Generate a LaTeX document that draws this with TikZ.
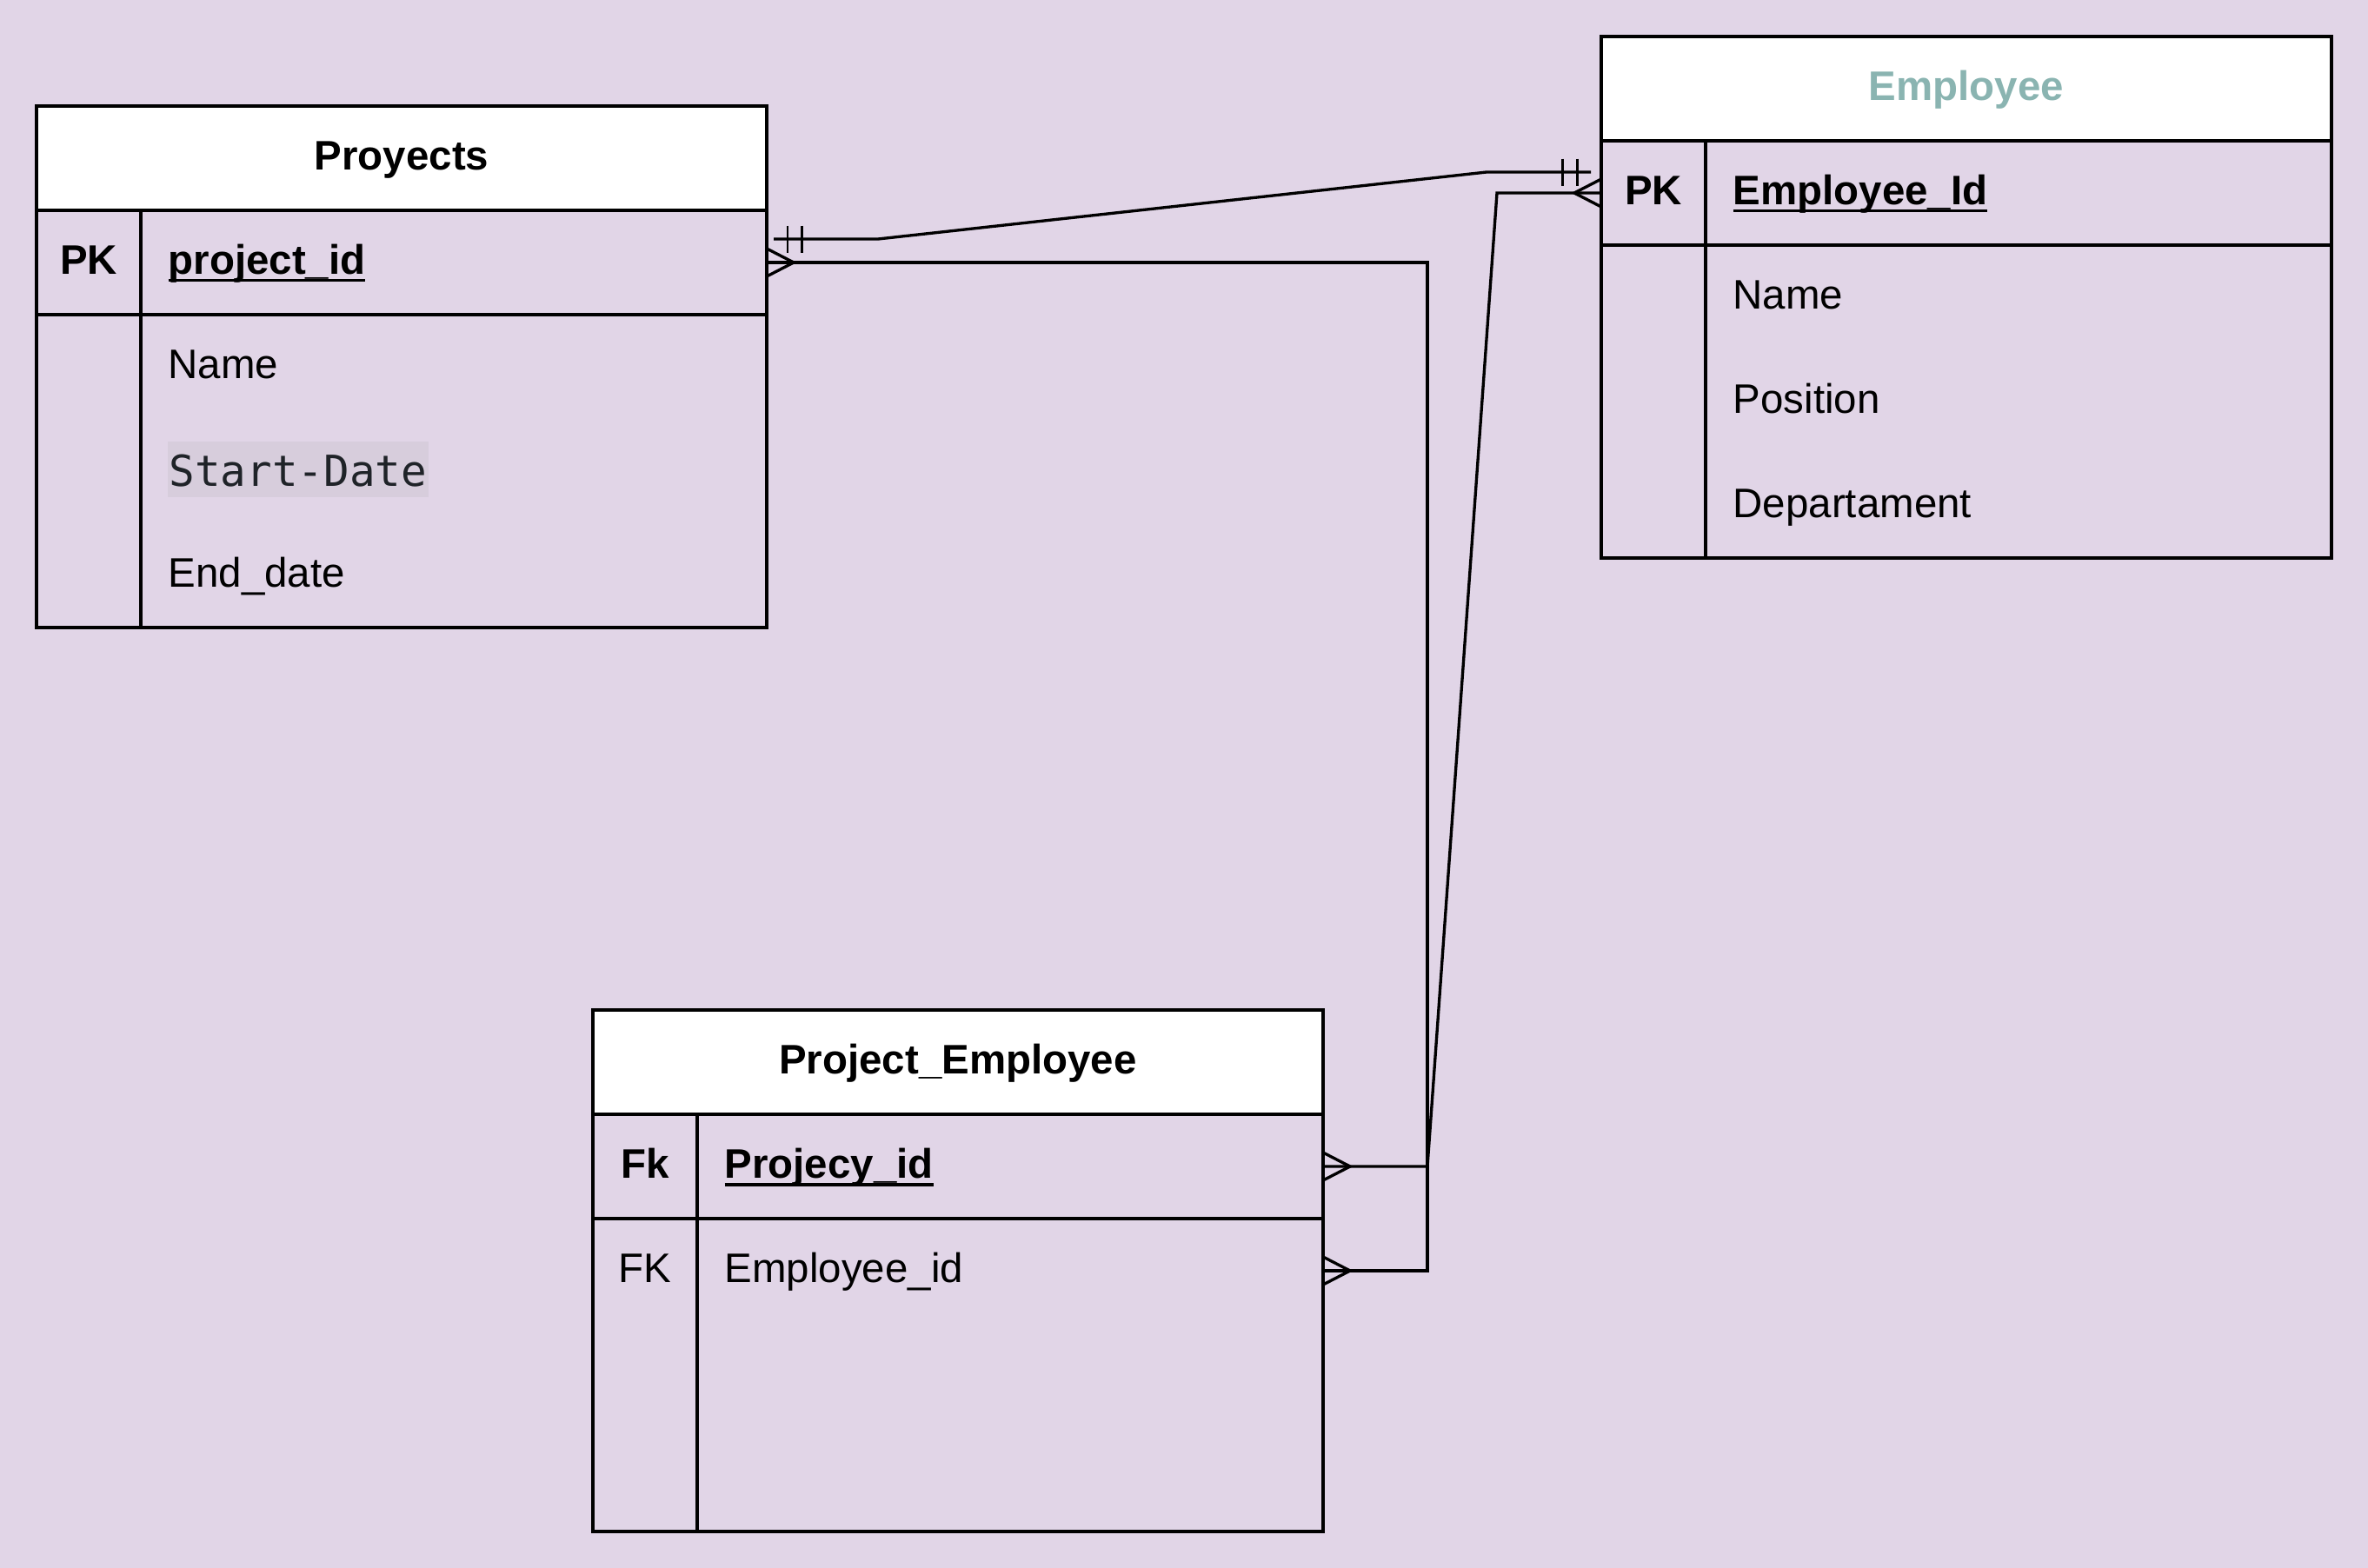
\documentclass[tikz,border=0pt]{standalone}
\usepackage{fontspec}
\setmainfont{Liberation Sans}
\newfontfamily\codefont{DejaVu Sans Mono}
\usepackage{xcolor}
\usepackage{tikz}
\usetikzlibrary{positioning}

\definecolor{bgpurple}{HTML}{E1D5E7}
\definecolor{titleteal}{HTML}{8AB4B1}
\definecolor{codebg}{HTML}{D7CDDC}
\definecolor{codefg}{HTML}{1F2328}

\newsavebox\ulbox
\newcommand{\keyfield}[1]{\sbox\ulbox{#1}\rlap{\rule[-0.2em]{\wd\ulbox}{0.07em}}\usebox\ulbox}

\tikzset{
  tblhead/.style={draw, line width=1.2pt, fill=white, minimum width=8.4cm, minimum height=1.2cm,
    outer sep=0pt, inner sep=0pt, text height=0.38cm, text depth=0.12cm, font=\bfseries},
  tblrow/.style={draw, line width=1.2pt, minimum width=8.4cm, minimum height=1.2cm, outer sep=0pt},
  tblbody/.style={draw, line width=1.2pt, minimum width=8.4cm, minimum height=3.6cm, outer sep=0pt},
  keytxt/.style={inner sep=0pt, text height=0.38cm, text depth=0.12cm},
  fieldtxt/.style={anchor=west, inner sep=0pt, text height=0.38cm, text depth=0.12cm},
  conn/.style={line width=0.95pt},
  barmark/.style={line width=0.75pt}
}

\begin{document}
\fontsize{13.5}{16}\selectfont
\begin{tikzpicture}
	\fill[bgpurple] (0,0) rectangle (27.24,-18.04);
	\useasboundingbox (0,0) rectangle (27.24,-18.04);

	% Proyects
	\node[tblhead] (proj) at (4.62,-1.82) {Proyects};
	\node[tblrow, below=0pt of proj] (projpk) {};
	\node[tblbody, below=0pt of projpk] (projbody) {};
	\draw[line width=1.2pt] ([xshift=1.2cm]projpk.north west) -- ([xshift=1.2cm]projbody.south west);
	\node[keytxt, font=\bfseries] (projpkk) at ([xshift=0.6cm]projpk.west) {PK};
	\node[fieldtxt, font=\bfseries] (projid) at ([xshift=1.51cm]projpk.west) {\keyfield{project\_id}};
	\node[fieldtxt] (projname) at ([xshift=1.51cm,yshift=-0.6cm]projbody.north west) {Name};
	\node[anchor=base west, fill=codebg, inner xsep=0.02cm, inner ysep=0pt, text height=0.51cm, text depth=0.125cm, text=codefg, font=\codefont\fontsize{14}{16}\selectfont]
		(projstart) at (1.92,-5.59) {Start-Date};
	\node[fieldtxt] (projend) at ([xshift=1.51cm,yshift=-3.0cm]projbody.north west) {End\_date};

	% Employee
	\node[tblhead, text=titleteal] (emp) at (22.62,-1.02) {Employee};
	\node[tblrow, below=0pt of emp] (emppk) {};
	\node[tblbody, below=0pt of emppk] (empbody) {};
	\draw[line width=1.2pt] ([xshift=1.2cm]emppk.north west) -- ([xshift=1.2cm]empbody.south west);
	\node[keytxt, font=\bfseries] (emppkk) at ([xshift=0.6cm]emppk.west) {PK};
	\node[fieldtxt, font=\bfseries] (empid) at ([xshift=1.51cm]emppk.west) {\keyfield{Employee\_Id}};
	\node[fieldtxt] (empname) at ([xshift=1.51cm,yshift=-0.6cm]empbody.north west) {Name};
	\node[fieldtxt] (emppos) at ([xshift=1.51cm,yshift=-1.8cm]empbody.north west) {Position};
	\node[fieldtxt] (empdep) at ([xshift=1.51cm,yshift=-3.0cm]empbody.north west) {Departament};

	% Project_Employee
	\node[tblhead] (pe) at (11.02,-12.22) {Project\_Employee};
	\node[tblrow, below=0pt of pe] (pepk) {};
	\node[tblbody, below=0pt of pepk] (pebody) {};
	\draw[line width=1.2pt] ([xshift=1.2cm]pepk.north west) -- ([xshift=1.2cm]pebody.south west);
	\node[keytxt, font=\bfseries] (pepkk) at ([xshift=0.6cm]pepk.west) {Fk};
	\node[fieldtxt, font=\bfseries] (peproj) at ([xshift=1.51cm]pepk.west) {\keyfield{Projecy\_id}};
	\node[keytxt] (pefkk) at ([xshift=0.6cm,yshift=-0.6cm]pebody.north west) {FK};
	\node[fieldtxt] (peemp) at ([xshift=1.51cm,yshift=-0.6cm]pebody.north west) {Employee\_id};
	\coordinate (peempe) at ([yshift=-0.6cm]pebody.north east);

	% links
	\coordinate (bus) at (16.42,0);
	\draw[conn] ([xshift=0.08cm,yshift=0.27cm]projpk.east) -- ([xshift=1.28cm,yshift=0.27cm]projpk.east)
		-- ([xshift=-1.32cm,yshift=0.24cm]emppk.west) -- ([xshift=-0.12cm,yshift=0.24cm]emppk.west);
	\draw[barmark] ([xshift=0.24cm,yshift=0.425cm]projpk.east) -- ++(0,-0.31);
	\draw[barmark] ([xshift=0.405cm,yshift=0.425cm]projpk.east) -- ++(0,-0.31);
	\draw[barmark] ([xshift=-0.445cm,yshift=0.395cm]emppk.west) -- ++(0,-0.31);
	\draw[barmark] ([xshift=-0.273cm,yshift=0.395cm]emppk.west) -- ++(0,-0.31);

	\draw[conn] (projpk.east) -- (projpk.east -| bus) |- (peempe);
	\draw[conn] (emppk.west) -- ([xshift=-1.2cm]emppk.west) -- (pepk.east -| bus) -- (pepk.east);

	% crow feet
	\draw[conn] ([yshift=0.16cm]projpk.east) -- ([xshift=0.31cm]projpk.east) -- ([yshift=-0.16cm]projpk.east);
	\draw[conn] ([yshift=0.16cm]emppk.west) -- ([xshift=-0.31cm]emppk.west) -- ([yshift=-0.16cm]emppk.west);
	\draw[conn] ([yshift=0.16cm]pepk.east) -- ([xshift=0.31cm]pepk.east) -- ([yshift=-0.16cm]pepk.east);
	\draw[conn] ([yshift=0.16cm]peempe) -- ([xshift=0.31cm]peempe) -- ([yshift=-0.16cm]peempe);
\end{tikzpicture}
\end{document}
